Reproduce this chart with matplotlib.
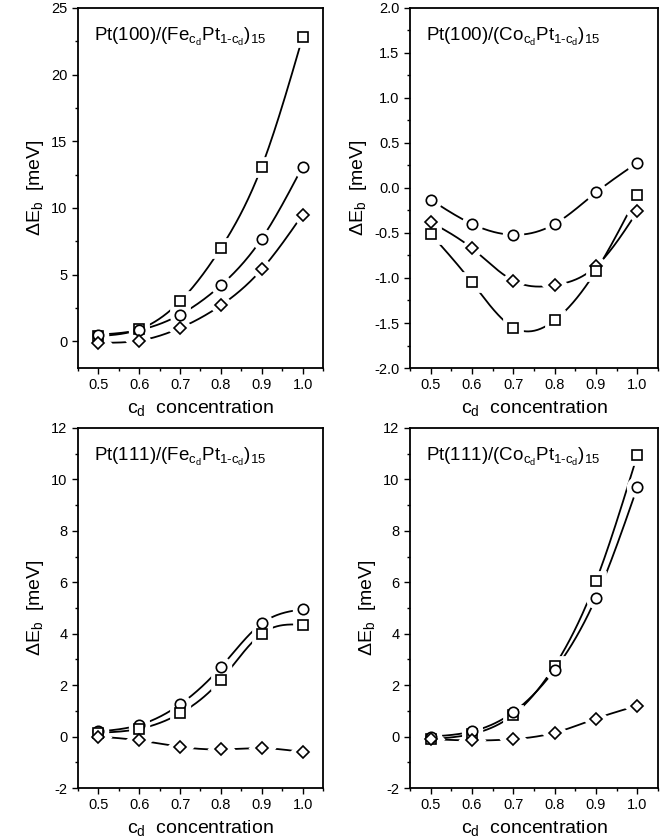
import matplotlib
matplotlib.use('Agg')
import matplotlib.pyplot as plt
from matplotlib.ticker import MultipleLocator, AutoMinorLocator
import numpy as np

plt.rcParams['font.family'] = ['Liberation Sans', 'DejaVu Sans']
plt.rcParams['mathtext.fontset'] = 'custom'
plt.rcParams['mathtext.rm'] = 'Liberation Sans'
plt.rcParams['mathtext.it'] = 'Liberation Sans'
plt.rcParams['mathtext.default'] = 'regular'
plt.rcParams['axes.unicode_minus'] = False

conc = [0.5, 0.6, 0.7, 0.8, 0.9, 1.0]

# Pt(100)/(Fe Pt)15
fe100_sq = [0.4, 0.9, 3.0, 7.0, 13.1, 22.8]
fe100_ci = [0.5, 0.85, 2.0, 4.2, 7.7, 13.1]
fe100_di = [-0.1, 0.05, 1.0, 2.7, 5.4, 9.5]

# Pt(100)/(Co Pt)15
co100_ci = [-0.13, -0.40, -0.52, -0.40, -0.05, 0.28]
co100_di = [-0.38, -0.67, -1.03, -1.08, -0.87, -0.26]
co100_sq = [-0.51, -1.05, -1.55, -1.47, -0.92, -0.08]

# Pt(111)/(Fe Pt)15
fe111_ci = [0.2, 0.45, 1.25, 2.7, 4.4, 4.95]
fe111_sq = [0.15, 0.3, 0.9, 2.2, 4.0, 4.35]
fe111_di = [0.0, -0.15, -0.4, -0.5, -0.45, -0.6]

# Pt(111)/(Co Pt)15
co111_sq = [-0.1, 0.1, 0.85, 2.75, 6.05, 10.95]
co111_ci = [0.0, 0.2, 0.95, 2.6, 5.4, 9.7]
co111_di = [-0.1, -0.15, -0.1, 0.15, 0.7, 1.2]


def spline(x, y, n=200):
    # natural cubic spline, only used to draw the smooth connecting curve
    x = np.asarray(x, float)
    y = np.asarray(y, float)
    h = np.diff(x)
    m = len(x)
    A = np.zeros((m, m))
    b = np.zeros(m)
    A[0, 0] = A[-1, -1] = 1
    for i in range(1, m - 1):
        A[i, i - 1] = h[i - 1]
        A[i, i] = 2 * (h[i - 1] + h[i])
        A[i, i + 1] = h[i]
        b[i] = 3 * ((y[i + 1] - y[i]) / h[i] - (y[i] - y[i - 1]) / h[i - 1])
    c = np.linalg.solve(A, b)
    xs = np.linspace(x[0], x[-1], n)
    idx = np.clip(np.searchsorted(x, xs) - 1, 0, m - 2)
    dx = xs - x[idx]
    bb = (y[idx + 1] - y[idx]) / h[idx] - h[idx] * (2 * c[idx] + c[idx + 1]) / 3
    d = (c[idx + 1] - c[idx]) / (3 * h[idx])
    ys = y[idx] + bb * dx + c[idx] * dx ** 2 + d * dx ** 3
    return xs, ys


def draw(ax, y, marker, ms):
    xs, ys = spline(conc, y)
    ax.plot(xs, ys, color='black', lw=1.3, zorder=2)
    # white halo leaves the small gap between curve and marker
    ax.plot(conc, y, ls='none', marker=marker, ms=ms + 6, mfc='white',
            mec='white', mew=2, zorder=3)
    ax.plot(conc, y, ls='none', marker=marker, ms=ms, mfc='white',
            mec='black', mew=1.2, zorder=4)


def style(ax, ylim, major, title):
    ax.set_xlim(0.45, 1.05)
    ax.set_ylim(*ylim)
    ax.xaxis.set_major_locator(MultipleLocator(0.1))
    ax.xaxis.set_minor_locator(AutoMinorLocator(2))
    ax.yaxis.set_major_locator(MultipleLocator(major))
    ax.yaxis.set_minor_locator(AutoMinorLocator(2))
    ax.tick_params(which='both', direction='out', top=False, right=False,
                   labelsize=10.5, width=1.0)
    ax.tick_params(which='major', length=4)
    ax.tick_params(which='minor', length=2.5)
    for s in ax.spines.values():
        s.set_linewidth(1.3)
    ax.set_xlabel(r'c$_d$  concentration', fontsize=14, labelpad=4)
    ax.set_ylabel(r'$\Delta$E$_b$  [meV]', fontsize=14, labelpad=4)
    ax.text(0.065, 0.92, title, transform=ax.transAxes, fontsize=13.5,
            ha='left', va='center')


fig = plt.figure(figsize=(6.69, 8.4), dpi=100)
ax1 = fig.add_axes([0.1166, 0.5619, 0.3662, 0.4286])
ax2 = fig.add_axes([0.6129, 0.5619, 0.3707, 0.4286])
ax3 = fig.add_axes([0.1166, 0.0619, 0.3662, 0.4286])
ax4 = fig.add_axes([0.6129, 0.0619, 0.3707, 0.4286])

draw(ax1, fe100_sq, 's', 6.5)
draw(ax1, fe100_ci, 'o', 7.5)
draw(ax1, fe100_di, 'D', 6.3)
style(ax1, (-2, 25), 5, r'Pt(100)/(Fe$_{c_d}$Pt$_{1\text{-}c_d}$)$_{15}$')
ax1.yaxis.set_major_formatter(plt.FuncFormatter(lambda v, p: f'{v:.0f}'))

draw(ax2, co100_ci, 'o', 7.5)
draw(ax2, co100_di, 'D', 6.3)
draw(ax2, co100_sq, 's', 6.5)
style(ax2, (-2.0, 2.0), 0.5, r'Pt(100)/(Co$_{c_d}$Pt$_{1\text{-}c_d}$)$_{15}$')
ax2.yaxis.set_major_formatter(plt.FuncFormatter(lambda v, p: f'{v:.1f}'))

draw(ax3, fe111_ci, 'o', 7.5)
draw(ax3, fe111_sq, 's', 6.5)
draw(ax3, fe111_di, 'D', 6.3)
style(ax3, (-2, 12), 2, r'Pt(111)/(Fe$_{c_d}$Pt$_{1\text{-}c_d}$)$_{15}$')

draw(ax4, co111_sq, 's', 6.5)
draw(ax4, co111_ci, 'o', 7.5)
draw(ax4, co111_di, 'D', 6.3)
style(ax4, (-2, 12), 2, r'Pt(111)/(Co$_{c_d}$Pt$_{1\text{-}c_d}$)$_{15}$')

for ax in (ax1, ax2, ax3, ax4):
    ax.xaxis.set_major_formatter(plt.FuncFormatter(lambda v, p: f'{v:.1f}'))

fig.savefig('out.png', dpi=100)
